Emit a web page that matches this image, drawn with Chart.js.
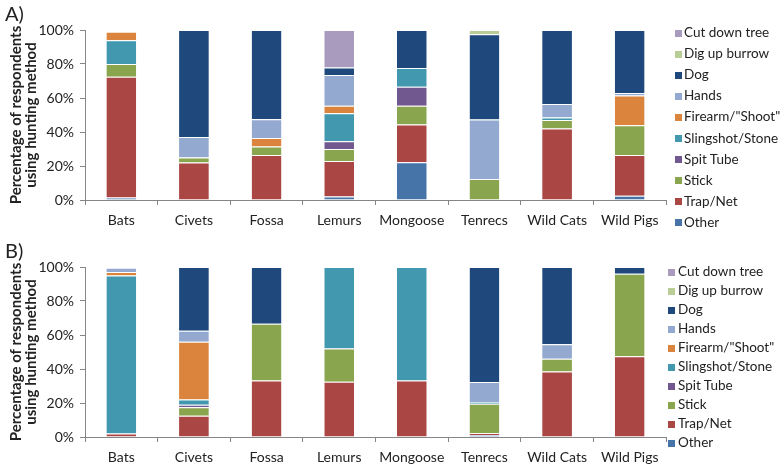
<!DOCTYPE html>
<html>
<head>
<meta charset="utf-8">
<script src="https://cdn.jsdelivr.net/npm/chart.js@4/dist/chart.umd.min.js"></script>
<style>
  html, body { margin:0; padding:0; background:#fff; }
  body { width:782px; height:467px; position:relative; overflow:hidden; font-family: Lato, "Open Sans", sans-serif; color:#222; }
  .panel { position:absolute; left:0; width:782px; }
  .tag { position:absolute; left:5px; font-size:20px; color:#222; }
  .legend { position:absolute; font-size:13.5px; color:#222; }
  .legend .item { position:absolute; white-space:nowrap; }
  .legend .sw { position:absolute; width:7px; height:7px; }
</style>
</head>
<body>
<div class="panel" style="top:0;height:233px;"><canvas id="cA" width="782" height="233"></canvas></div>
<div class="panel" style="top:237px;height:230px;"><canvas id="cB" width="782" height="230"></canvas></div>
<div class="tag" style="top:1px;">A)</div>
<div class="tag" style="top:238px;">B)</div>
<div class="legend" id="legA"></div>
<div class="legend" id="legB"></div>
<script>
// ---------- DATA ----------
const categories = ["Bats", "Civets", "Fossa", "Lemurs", "Mongoose", "Tenrecs", "Wild Cats", "Wild Pigs"];
const methods = ["Other", "Trap/Net", "Stick", "Spit Tube", "Slingshot/Stone", "Firearm/\"Shoot\"", "Hands", "Dog", "Dig up burrow", "Cut down tree"];
const yTicks = ["0%", "20%", "40%", "60%", "80%", "100%"];

// Panel A (percent of respondents)
const otherA    = [1.5, 0, 0, 2, 22.2, 0, 0, 2.5];
const trapA     = [71, 22, 26.5, 21, 22.2, 0, 42, 24];
const stickA    = [7.5, 3, 5, 7, 11.1, 12.3, 5, 17.5];
const spitA     = [0, 0, 0, 4.5, 11.1, 0, 0, 0];
const slingA    = [14, 0, 0, 16.5, 11.1, 0, 1.5, 0];
const firearmA  = [5, 0, 5, 4.5, 0, 0, 0, 17.5];
const handsA    = [0, 12, 11, 18, 0, 35.1, 8, 1.5];
const dogA      = [0, 63, 52.5, 4.5, 22.3, 50.1, 43.5, 37];
const digA      = [0, 0, 0, 0, 0, 2.5, 0, 0];
const cutA      = [0, 0, 0, 22, 0, 0, 0, 0];

// Panel B
const otherB    = [0, 0, 0, 0, 0, 1.2, 0, 0];
const trapB     = [2, 12.5, 33.3, 32.5, 33.3, 1, 38.5, 47.5];
const stickB    = [0, 5, 33.3, 19.5, 0, 17.4, 7.5, 48.5];
const spitB     = [0, 1.5, 0, 0, 0, 0, 0, 0];
const slingB    = [93, 3, 0, 48, 66.7, 1, 0, 0];
const firearmB  = [2, 34, 0, 0, 0, 0, 0, 0];
const handsB    = [2.5, 6.5, 0, 0, 0, 11.8, 8.5, 0];
const dogB      = [0, 37.5, 33.4, 0, 0, 67.6, 45.5, 4];
const digB      = [0, 0, 0, 0, 0, 0, 0, 0];
const cutB      = [0, 0, 0, 0, 0, 0, 0, 0];

const colors = ["#4673A8", "#AA4643", "#89A54E", "#71588F", "#4198AF", "#DB843D", "#93A9D0", "#1F497D", "#B9CD96", "#A99BBD"];

const seriesA = [otherA, trapA, stickA, spitA, slingA, firearmA, handsA, dogA, digA, cutA];
const seriesB = [otherB, trapB, stickB, spitB, slingB, firearmB, handsB, dogB, digB, cutB];

// ---------- CHARTS ----------
const FONT = "Lato, 'Open Sans', sans-serif";
const AXIS = "#868686";

function makeChart(id, series, xAxisHeight) {
  const datasets = methods.map((m, i) => ({
    label: m,
    data: series[i].map(v => v === 0 ? null : v),
    backgroundColor: colors[i],
    borderColor: "#ffffff",
    borderWidth: { top: 1, bottom: 0, left: 0, right: 0 },
    borderSkipped: false,
    barPercentage: 0.41,
    categoryPercentage: 1.0
  }));
  return new Chart(document.getElementById(id), {
    type: "bar",
    data: { labels: categories, datasets },
    options: {
      responsive: false,
      animation: false,
      events: [],
      layout: { padding: { left: 0, right: 116, top: 30, bottom: 0 } },
      plugins: { legend: { display: false }, tooltip: { enabled: false } },
      scales: {
        x: {
          stacked: true,
          afterFit: s => { s.height = xAxisHeight; },
          grid: { display: true, drawOnChartArea: false, drawTicks: true, tickLength: 5, color: AXIS, offset: true },
          border: { display: true, color: AXIS, width: 1 },
          ticks: { color: "#222", font: { family: FONT, size: 14 }, padding: 7, maxRotation: 0 }
        },
        y: {
          stacked: true,
          min: 0, max: 100,
          afterFit: s => { s.width = 85; },
          afterBuildTicks: s => { s.ticks = yTicks.map(t => ({ value: parseFloat(t) })); },
          grid: { display: true, drawOnChartArea: false, drawTicks: true, tickLength: 5, color: AXIS },
          border: { display: true, color: AXIS, width: 1 },
          ticks: { color: "#222", font: { family: FONT, size: 14 }, padding: 6,
                   callback: (v) => yTicks[yTicks.findIndex(t => parseFloat(t) === v)] },
          title: { display: true, text: ["Percentage of respondents", "using hunting method"],
                   color: "#222", font: { family: FONT, size: 15, weight: "bold", lineHeight: 1.05 },
                   padding: { top: 8, bottom: 0 } }
        }
      }
    }
  });
}

makeChart("cA", seriesA, 33);
makeChart("cB", seriesB, 30);

// ---------- LEGENDS (top item = last series) ----------
function buildLegend(elId, top0, step, swX, txtX) {
  const el = document.getElementById(elId);
  const order = methods.map((m, i) => i).reverse();
  order.forEach((idx, k) => {
    const cy = top0 + k * step;
    const sw = document.createElement("div");
    sw.className = "sw";
    sw.style.left = swX + "px";
    sw.style.top = (cy - 3.5) + "px";
    sw.style.background = colors[idx];
    el.appendChild(sw);
    const t = document.createElement("div");
    t.className = "item";
    t.style.left = txtX + "px";
    t.style.top = (cy - 9) + "px";
    t.textContent = methods[idx];
    el.appendChild(t);
  });
}
buildLegend("legA", 33, 21.1, 675, 684);
buildLegend("legB", 272, 19, 668, 678);
</script>
</body>
</html>
